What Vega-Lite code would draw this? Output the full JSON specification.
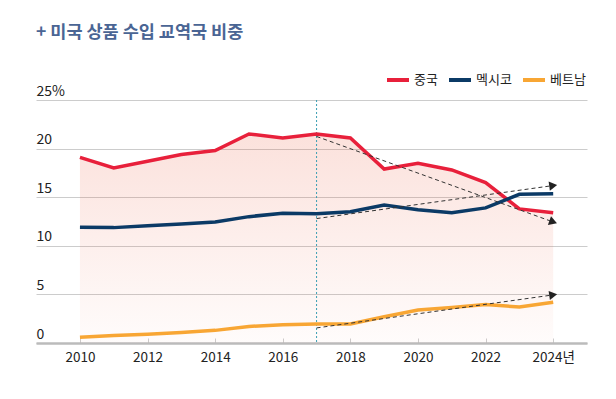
{
  "$schema": "https://vega.github.io/schema/vega-lite/v6.json",
  "width": 551,
  "height": 243,
  "autosize": {"type": "none"},
  "padding": {"left": 36, "top": 100, "right": 29, "bottom": 56},
  "background": "white",
  "title": {"text": "+ 미국 상품 수입 교역국 비중", "anchor": "start", "font": "Noto Sans CJK KR", "fontSize": 17.5, "fontWeight": "bold", "color": "#4a6594", "offset": 8, "baseline": "bottom"},
  "config": {"view": {"stroke": null}, "font": "Noto Sans CJK KR"},
  "datasets": {
    "main": [
      {"year": 2010, "country": "중국", "value": 19.1},
      {"year": 2011, "country": "중국", "value": 18.0},
      {"year": 2012, "country": "중국", "value": 18.7},
      {"year": 2013, "country": "중국", "value": 19.4},
      {"year": 2014, "country": "중국", "value": 19.8},
      {"year": 2015, "country": "중국", "value": 21.5},
      {"year": 2016, "country": "중국", "value": 21.1},
      {"year": 2017, "country": "중국", "value": 21.5},
      {"year": 2018, "country": "중국", "value": 21.1},
      {"year": 2019, "country": "중국", "value": 17.9},
      {"year": 2020, "country": "중국", "value": 18.5},
      {"year": 2021, "country": "중국", "value": 17.8},
      {"year": 2022, "country": "중국", "value": 16.5},
      {"year": 2023, "country": "중국", "value": 13.8},
      {"year": 2024, "country": "중국", "value": 13.4},
      {"year": 2010, "country": "멕시코", "value": 11.9},
      {"year": 2011, "country": "멕시코", "value": 11.87},
      {"year": 2012, "country": "멕시코", "value": 12.06},
      {"year": 2013, "country": "멕시코", "value": 12.25},
      {"year": 2014, "country": "멕시코", "value": 12.45},
      {"year": 2015, "country": "멕시코", "value": 13.0},
      {"year": 2016, "country": "멕시코", "value": 13.35},
      {"year": 2017, "country": "멕시코", "value": 13.3},
      {"year": 2018, "country": "멕시코", "value": 13.5},
      {"year": 2019, "country": "멕시코", "value": 14.2},
      {"year": 2020, "country": "멕시코", "value": 13.7},
      {"year": 2021, "country": "멕시코", "value": 13.4},
      {"year": 2022, "country": "멕시코", "value": 13.9},
      {"year": 2023, "country": "멕시코", "value": 15.3},
      {"year": 2024, "country": "멕시코", "value": 15.35},
      {"year": 2010, "country": "베트남", "value": 0.6},
      {"year": 2011, "country": "베트남", "value": 0.78},
      {"year": 2012, "country": "베트남", "value": 0.9},
      {"year": 2013, "country": "베트남", "value": 1.07},
      {"year": 2014, "country": "베트남", "value": 1.3},
      {"year": 2015, "country": "베트남", "value": 1.7},
      {"year": 2016, "country": "베트남", "value": 1.88},
      {"year": 2017, "country": "베트남", "value": 1.95},
      {"year": 2018, "country": "베트남", "value": 1.95},
      {"year": 2019, "country": "베트남", "value": 2.7},
      {"year": 2020, "country": "베트남", "value": 3.4},
      {"year": 2021, "country": "베트남", "value": 3.65},
      {"year": 2022, "country": "베트남", "value": 3.95},
      {"year": 2023, "country": "베트남", "value": 3.7},
      {"year": 2024, "country": "베트남", "value": 4.2}
    ],
    "trend": [
      {"year": 2017, "country": "중국", "value": 21.25},
      {"year": 2024, "country": "중국", "value": 12.45},
      {"year": 2017, "country": "멕시코", "value": 12.8},
      {"year": 2024, "country": "멕시코", "value": 16.2},
      {"year": 2017, "country": "베트남", "value": 1.55},
      {"year": 2024, "country": "베트남", "value": 4.95}
    ],
    "marker": [{"year": 2017}]
  },
  "layer": [
    {
      "data": {"name": "main"},
      "transform": [{"filter": "datum.country == '중국'"}],
      "mark": {"type": "area", "fill": {"gradient": "linear", "x1": 0, "y1": 0, "x2": 0, "y2": 1, "stops": [{"offset": 0, "color": "rgba(235,90,60,0.18)"}, {"offset": 1, "color": "rgba(235,90,60,0.02)"}]}},
      "encoding": {
        "x": {"field": "year", "type": "quantitative", "scale": {"domain": [2008.7, 2025], "nice": false, "zero": false},
          "axis": {"values": [2010, 2012, 2014, 2016, 2018, 2020, 2022, 2024], "format": "d", "labelExpr": "datum.value == 2024 ? '2024년' : datum.label", "grid": false, "domainColor": "#bbbbbb", "domainWidth": 2.5, "tickColor": "#cccccc", "tickSize": -5, "labelPadding": 12, "labelFontSize": 13.5, "labelColor": "#222222", "title": null, "labelFlush": false}},
        "y": {"field": "value", "type": "quantitative", "scale": {"domain": [0, 25], "nice": false},
          "axis": {"values": [0, 5, 10, 15, 20, 25], "grid": true, "gridColor": "#cccccc", "domain": false, "ticks": false, "labelAlign": "left", "labelBaseline": "bottom", "labelPadding": 0, "labelOffset": -2, "labelExpr": "datum.value == 25 ? '25%' : datum.label", "title": null, "labelFontSize": 14, "labelColor": "#222222", "labelFlush": false, "labelOverlap": false}}
      }
    },
    {
      "data": {"name": "marker"},
      "mark": {"type": "rule", "color": "#3a9db3", "strokeDash": [2, 2], "strokeWidth": 1},
      "encoding": {"x": {"field": "year", "type": "quantitative"}}
    },
    {
      "data": {"name": "main"},
      "mark": {"type": "line", "strokeWidth": 3.5},
      "encoding": {
        "x": {"field": "year", "type": "quantitative"},
        "y": {"field": "value", "type": "quantitative"},
        "color": {"field": "country", "type": "nominal", "scale": {"domain": ["중국", "멕시코", "베트남"], "range": ["#e8203b", "#0b3a66", "#f8a634"]},
          "legend": {"orient": "none", "legendX": 349, "legendY": -33, "direction": "horizontal", "symbolType": "stroke", "symbolStrokeWidth": 4, "symbolSize": 484, "labelFontSize": 13, "labelOffset": 3, "labelColor": "#222222", "title": null, "columnPadding": 3}}
      }
    },
    {
      "data": {"name": "trend"},
      "mark": {"type": "line", "color": "#333333", "strokeDash": [4, 3], "strokeWidth": 1},
      "encoding": {
        "x": {"field": "year", "type": "quantitative"},
        "y": {"field": "value", "type": "quantitative"},
        "detail": {"field": "country"}
      }
    },
    {
      "data": {"name": "trend"},
      "transform": [{"filter": "datum.year == 2024 && datum.country == '중국'"}],
      "mark": {"type": "point", "shape": "triangle-right", "filled": true, "color": "#222222", "size": 85, "opacity": 1, "angle": 20},
      "encoding": {"x": {"field": "year", "type": "quantitative"}, "y": {"field": "value", "type": "quantitative"}}
    },
    {
      "data": {"name": "trend"},
      "transform": [{"filter": "datum.year == 2024 && datum.country != '중국'"}],
      "mark": {"type": "point", "shape": "triangle-right", "filled": true, "color": "#222222", "size": 85, "opacity": 1, "angle": -8},
      "encoding": {"x": {"field": "year", "type": "quantitative"}, "y": {"field": "value", "type": "quantitative"}}
    }
  ]
}
